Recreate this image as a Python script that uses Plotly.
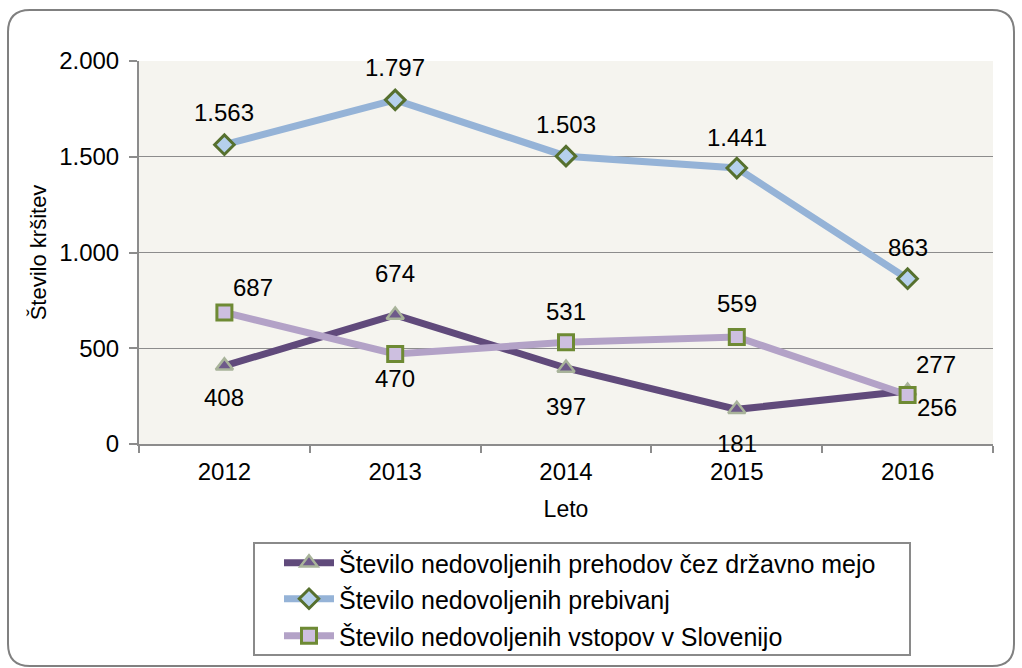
import plotly.graph_objects as go

years = ["2012", "2013", "2014", "2015", "2016"]
prehodi = [408, 674, 397, 181, 277]
prebivanja = [1563, 1797, 1503, 1441, 863]
vstopi = [687, 470, 531, 559, 256]

names = [
    "Število nedovoljenih prehodov čez državno mejo",
    "Število nedovoljenih prebivanj",
    "Število nedovoljenih vstopov v Slovenijo",
]

W, H = 1022, 668
L, R, T, B = 139, 993, 61, 444  # plot area in px

FONT = "Liberation Sans, Arial, sans-serif"
FS = 24


def px(x):
    return (x - L) / (R - L)


def py(y):
    return (B - y) / (B - T)


fig = go.Figure()

# series: values, line colour, marker
series = [
    (prehodi, "#604A7B", dict(symbol="triangle-up", size=15, color="#6E5A8A",
                              line=dict(color="#A8B39A", width=2.5)), "legend"),
    (prebivanja, "#95B3D7", dict(symbol="diamond", size=15, color="#B5D0EC",
                                 line=dict(color="#56702E", width=3)), "legend2"),
    (vstopi, "#B3A2C7", dict(symbol="square", size=15, color="#CDBFE0",
                             line=dict(color="#6E8A34", width=3)), "legend3"),
]

for (vals, col, mk, lg), nm in zip(series, names):
    fig.add_trace(go.Scatter(
        x=years, y=vals, name=nm, mode="lines+markers",
        line=dict(color=col, width=7), marker=mk, legend=lg,
    ))

# label offsets (dx, dy) in px for each point
offsets = [
    [(0, 32), (0, -41), (0, 39), (0, 34), (28, -26)],
    [(0, -32), (0, -32), (0, -32), (0, -31), (0, -31)],
    [(29, -25), (0, 24), (0, -31), (0, -33), (29, 13)],
]

ann = []
for (vals, _, _, _), offs in zip(series, offsets):
    for i, (v, (dx, dy)) in enumerate(zip(vals, offs)):
        ann.append(dict(
            x=i, y=v, xref="x", yref="y", text=f"{v:,}".replace(",", "."),
            showarrow=False, xshift=dx, yshift=-dy,
            font=dict(family=FONT, size=FS, color="#000000"),
        ))

# outer rounded border
x0, x1, y0, y1, r = 8, 1014, 10, 666, 22
rx, ry = r / (R - L), r / (B - T)
X0, X1, Y0, Y1 = px(x0), px(x1), py(y0), py(y1)
path = (
    f"M {X0 + rx},{Y0} L {X1 - rx},{Y0} Q {X1},{Y0} {X1},{Y0 - ry} "
    f"L {X1},{Y1 + ry} Q {X1},{Y1} {X1 - rx},{Y1} "
    f"L {X0 + rx},{Y1} Q {X0},{Y1} {X0},{Y1 + ry} "
    f"L {X0},{Y0 - ry} Q {X0},{Y0} {X0 + rx},{Y0} Z"
)

shapes = [
    dict(type="path", path=path, xref="paper", yref="paper",
         line=dict(color="#808080", width=2), layer="below"),
    dict(type="rect", xref="paper", yref="paper",
         x0=px(254), x1=px(910), y0=py(543), y1=py(655),
         line=dict(color="#8A8A8A", width=2), fillcolor="white", layer="below"),
]

leg_common = dict(
    xref="paper", yref="paper", xanchor="left", yanchor="middle",
    bgcolor="rgba(0,0,0,0)", borderwidth=0, itemwidth=50,
    font=dict(family=FONT, size=25, color="#000000"),
)

fig.update_layout(
    width=W, height=H,
    margin=dict(l=L, r=W - R, t=T, b=H - B, autoexpand=False),
    paper_bgcolor="white",
    plot_bgcolor="#F5F4EF",
    separators=",.",
    font=dict(family=FONT, size=FS, color="#000000"),
    showlegend=True,
    legend=dict(x=px(279), y=py(563), **leg_common),
    legend2=dict(x=px(279), y=py(599), **leg_common),
    legend3=dict(x=px(279), y=py(636), **leg_common),
    annotations=ann,
    shapes=shapes,
    xaxis=dict(
        type="category", range=[-0.5, len(years) - 0.5],
        title=dict(text="Leto", font=dict(size=23), standoff=17),
        showline=True, linecolor="#8C8C8C", linewidth=2,
        ticks="outside", tickson="boundaries", ticklen=7,
        tickcolor="#8C8C8C", tickwidth=2, tickangle=0, ticklabelstandoff=5,
        showgrid=False, fixedrange=True, automargin=False,
    ),
    yaxis=dict(
        title=dict(text="Število kršitev", font=dict(size=22), standoff=6),
        range=[0, 2000], tickvals=[0, 500, 1000, 1500, 2000],
        tickformat=",d", ticklabelstandoff=5,
        showline=True, linecolor="#8C8C8C", linewidth=2,
        ticks="outside", ticklen=8, tickcolor="#8C8C8C", tickwidth=2,
        showgrid=True, gridcolor="#8C8C8C", gridwidth=1.3,
        zeroline=False, fixedrange=True, automargin=False,
    ),
)

fig.write_html("out.html", config={"displayModeBar": False},
               post_script="document.body.style.margin='0';")
